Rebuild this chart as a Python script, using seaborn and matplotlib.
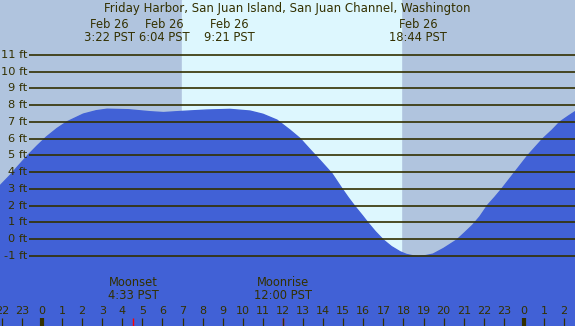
import matplotlib
matplotlib.use("Agg")
import matplotlib.pyplot as plt
import matplotlib.transforms as mtransforms
import seaborn as sns
import pandas as pd

# ── DATA ─────────────────────────────────────────────────────
# hours relative to midnight Feb 26, heights in feet
tide_hours = [-2.09, -1.59, -1.15, -0.70, -0.25, 0.23, 0.75, 1.25, 2.06, 2.7, 3.24, 4.3,
              5.38, 6.05, 6.97, 8.2, 9.36, 10.36, 11.0, 11.70, 12.35, 12.85,
              13.3, 13.84, 14.44, 14.94, 15.25, 15.59, 15.95, 16.25, 16.6, 17.0,
              17.4, 17.83, 18.15, 18.47, 18.73, 19.1, 19.47, 20.0, 20.3, 20.65,
              21.05, 21.45, 21.8, 22.2, 22.55, 22.9, 23.55, 24.2, 24.95, 25.4,
              25.8, 26.2, 26.54]
tide_feet = [3.18, 3.8, 4.4, 5.0, 5.55, 6.1, 6.6, 7.0, 7.46, 7.66, 7.75, 7.72,
             7.6, 7.55, 7.62, 7.7, 7.74, 7.64, 7.45, 7.1, 6.5, 6.0,
             5.4, 4.7, 3.9, 3.0, 2.47, 1.93, 1.4, 0.94, 0.44, -0.06,
             -0.45, -0.76, -0.92, -1.0, -1.02, -0.99, -0.9, -0.56, -0.33, -0.06,
             0.38, 0.84, 1.33, 2.03, 2.5, 3.0, 4.0, 5.0, 6.0, 6.5,
             7.0, 7.33, 7.6]

sunrise = 6.97
sunset = 17.88

extreme_hours = [3.37, 6.07, 9.35, 18.73]
extreme_labels = ["Feb 26\n3:22 PST", "Feb 26\n6:04 PST", "Feb 26\n9:21 PST", "Feb 26\n18:44 PST"]

moon_hours = [4.55, 12.0]
moon_labels = ["Moonset\n4:33 PST", "Moonrise\n12:00 PST"]

hour_ticks = list(range(-2, 27))
hour_labels = [str(h % 24) for h in hour_ticks]
midnights = [0, 24]

ft_levels = list(range(-1, 12))

title = "Friday Harbor, San Juan Island, San Juan Channel, Washington"

# ── COLOURS ──────────────────────────────────────────────────
night_color = "#B0C4DE"
day_color = "#DDF7FE"
water_color = "#4161D6"
ink = "#333000"

# ── FIGURE ───────────────────────────────────────────────────
sns.set_style("white")
plt.rcParams["font.family"] = ["DejaVu Sans"]

fig = plt.figure(figsize=(5.75, 3.26), dpi=100)
ax = fig.add_axes([0, 0, 1, 1])
ax.set_facecolor(night_color)
ax.axis("off")
fig.patch.set_facecolor(night_color)

# daylight band
ax.axvspan(sunrise, sunset, color=day_color, zorder=0)

# tide curve
df = pd.DataFrame({"hour": tide_hours, "feet": tide_feet})
ax.fill_between(df["hour"], df["feet"], -6, color=water_color, zorder=1, linewidth=0)
sns.lineplot(data=df, x="hour", y="feet", color=water_color, linewidth=1, ax=ax, zorder=1)

ax.set_xlim(-2.09, 26.54)
ax.set_ylim(-5.19, 14.27)

# horizontal grid lines and labels
line_start = -2.09 + 29 / 575 * (26.54 + 2.09)
for lv in ft_levels:
    ax.hlines(lv, line_start, 26.54, color=ink, linewidth=1.2, zorder=2)
    ax.text(line_start - 0.08, lv, f"{lv} ft", ha="right", va="center",
            fontsize=8.2, color=ink, zorder=3)

# top texts
ax.text(0.5, 0.975, title, transform=ax.transAxes, ha="center", va="center",
        fontsize=8.5, color=ink)
top = mtransforms.blended_transform_factory(ax.transData, ax.transAxes)
for h, lab in zip(extreme_hours, extreme_labels):
    ax.text(h, 0.905, lab, transform=top, ha="center", va="center",
            fontsize=8.3, color=ink, linespacing=0.95)

# moon events
for h, lab in zip(moon_hours, moon_labels):
    ax.text(h, 0.113, lab, transform=top, ha="center", va="center",
            fontsize=8.3, color=ink, linespacing=0.95)
    ax.vlines(h, 0, 0.026, transform=top, color="red", linewidth=1.0, zorder=3)

# hour ticks at bottom
for h, lab in zip(hour_ticks, hour_labels):
    lw = 3 if h in midnights else 0.9
    ax.vlines(h, 0, 0.026, transform=top, color=ink, linewidth=lw, zorder=3)
    ax.text(h, 0.046, lab, transform=top, ha="center", va="center",
            fontsize=8.0, color=ink)

fig.savefig("out.png", dpi=100, facecolor=night_color)
